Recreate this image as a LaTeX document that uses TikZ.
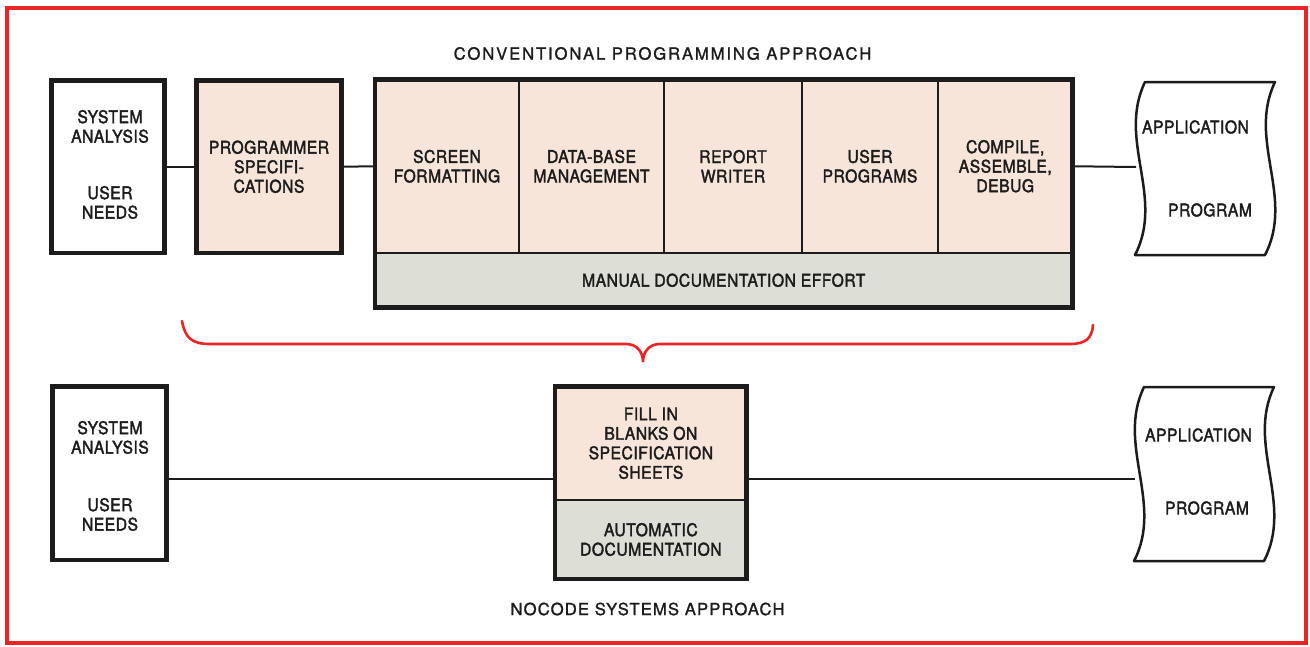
\documentclass[tikz,border=0pt]{standalone}
\usepackage{fontspec}
\setmainfont{TeX Gyre Heros}
\newfontfamily\boxfont[FakeStretch=0.9,LetterSpace=3,FakeBold=2]{TeX Gyre Heros}
\newfontfamily\headfont[LetterSpace=11,FakeBold=1.3]{TeX Gyre Heros}
\newfontfamily\footfont[LetterSpace=6.5,FakeBold=1.3]{TeX Gyre Heros}
\definecolor{peach}{RGB}{246,229,216}
\definecolor{band}{RGB}{221,222,213}
\definecolor{ink}{RGB}{28,28,28}
\definecolor{frame}{RGB}{236,36,36}
\begin{document}
\begin{tikzpicture}[x=1pt,y=-1pt,
  txt/.style={font=\boxfont\fontsize{17.4}{19.5}\selectfont, text=ink, align=center, inner sep=0pt, outer sep=0pt},
  cell/.style={txt, rectangle, draw=ink, line width=2.5pt, fill=peach},
  bandcell/.style={txt, rectangle, draw=ink, line width=2.5pt, fill=band},
  whitebox/.style={rectangle, draw=ink, line width=4.5pt, fill=white, inner sep=0pt, outer sep=0pt},
  peachbox/.style={txt, rectangle, draw=ink, line width=4.5pt, fill=peach},
  outline/.style={draw=ink, line width=4.5pt},
  conn/.style={draw=ink, line width=2pt},
  appline/.style={draw=ink, line width=2.5pt, line join=round},
  ghost/.style={rectangle, inner sep=0pt, outer sep=0pt},
  head/.style={font=\headfont\fontsize{16.7}{20}\selectfont, text=ink, inner sep=0pt},
  foot/.style={font=\footfont\fontsize{16.7}{20}\selectfont, text=ink, inner sep=0pt},
  brace/.style={draw=frame, line width=2.6pt, line cap=round}]
\useasboundingbox (0,0) rectangle (1310,646);
\fill[white] (0,0) rectangle (1310,646);
\draw[frame, line width=3.5pt] (7,8) rectangle (1306,643);

% titles
\node[head] (title1) at (662.5,53.5) {CONVENTIONAL PROGRAMMING APPROACH};
\node[foot] (title2) at (647.5,609) {NOCODE SYSTEMS APPROACH};

% ---------- upper row ----------
\node[whitebox, minimum width=113pt, minimum height=172.5pt] (b1) at (108.2,166.75) {};
\node[txt] (t1a) at (110,126.5) {SYSTEM\\ANALYSIS};
\node[txt] (t1b) at (110,202.5) {USER\\NEEDS};

\node[peachbox, minimum width=144.6pt, minimum height=172.5pt] (ps) at (269,166.75) {PROGRAMMER\\SPECIFI-\\CATIONS};

\node[cell, minimum width=144pt, minimum height=173.5pt] (c1) at (447,166.25) {SCREEN\\FORMATTING};
\node[cell, minimum width=145pt, minimum height=173.5pt] (c2) at (591.5,166.25) {DATA-BASE\\MANAGEMENT};
\node[cell, minimum width=138pt, minimum height=173.5pt] (c3) at (733,166.25) {REPORT\\WRITER};
\node[cell, minimum width=136pt, minimum height=173.5pt] (c4) at (870,166.25) {USER\\PROGRAMS};
\node[cell, minimum width=134.5pt, minimum height=173.5pt] (c5) at (1005.25,166.25) {COMPILE,\\ASSEMBLE,\\DEBUG};
\node[bandcell, minimum width=697.5pt, minimum height=54.5pt] (mb) at (723.75,280.25) {MANUAL DOCUMENTATION EFFORT};
\draw[outline] (c1.north west) rectangle (mb.south east);

\node[ghost, minimum width=140pt, minimum height=173pt] (app1) at (1206,167) {};
\begin{scope}[shift={(1135,82)}]
\draw[appline] (10,0) -- (140,0)
  .. controls (112,58) and (160,115) .. (130,173)
  -- (0,173)
  .. controls (30,115) and (-18,58) .. (10,0) -- cycle;
\end{scope}
\node[txt] (a1a) at (1195.5,127) {APPLICATION};
\node[txt] (a1b) at (1210,210) {PROGRAM};

\draw[conn] (b1.east) -- (ps.west);
\draw[conn] (ps.east) -- (c1.west);
\draw[conn] (c5.east) -- (app1.west);

% ---------- brace ----------
\draw[brace] (182,321) .. controls (185,338) and (192,344) .. (210,344) -- (626,344)
  .. controls (637,344) and (643,352) .. (643,362)
  .. controls (643,352) and (649,344) .. (660,344) -- (1070,344)
  .. controls (1086,344) and (1092,338) .. (1093,325);

% ---------- lower row ----------
\node[whitebox, minimum width=114pt, minimum height=173.3pt] (b2) at (109.7,473.3) {};
\node[txt] (t2a) at (110,437.5) {SYSTEM\\ANALYSIS};
\node[txt] (t2b) at (110,514.5) {USER\\NEEDS};

\node[cell, minimum width=191.7pt, minimum height=113.5pt] (fA) at (650.85,443.25) {FILL IN\\BLANKS ON\\SPECIFICATION\\SHEETS};
\node[bandcell, minimum width=191.7pt, minimum height=79pt] (fB) at (650.85,539.5) {AUTOMATIC\\DOCUMENTATION};
\draw[outline] (fA.north west) rectangle (fB.south east);

\node[ghost, minimum width=140pt, minimum height=174pt] (app2) at (1205,474) {};
\begin{scope}[shift={(1134,387)}]
\draw[appline] (10,0) -- (140,0)
  .. controls (112,58) and (160,116) .. (130,174)
  -- (0,174)
  .. controls (30,116) and (-18,58) .. (10,0) -- cycle;
\end{scope}
\node[txt] (a2a) at (1198.5,435) {APPLICATION};
\node[txt] (a2b) at (1207,508) {PROGRAM};

\coordinate (lowline) at (0,479);
\draw[conn] (b2.east |- lowline) -- (fA.west |- lowline);
\draw[conn] (fB.east |- lowline) -- (app2.west |- lowline);
\end{tikzpicture}
\end{document}
